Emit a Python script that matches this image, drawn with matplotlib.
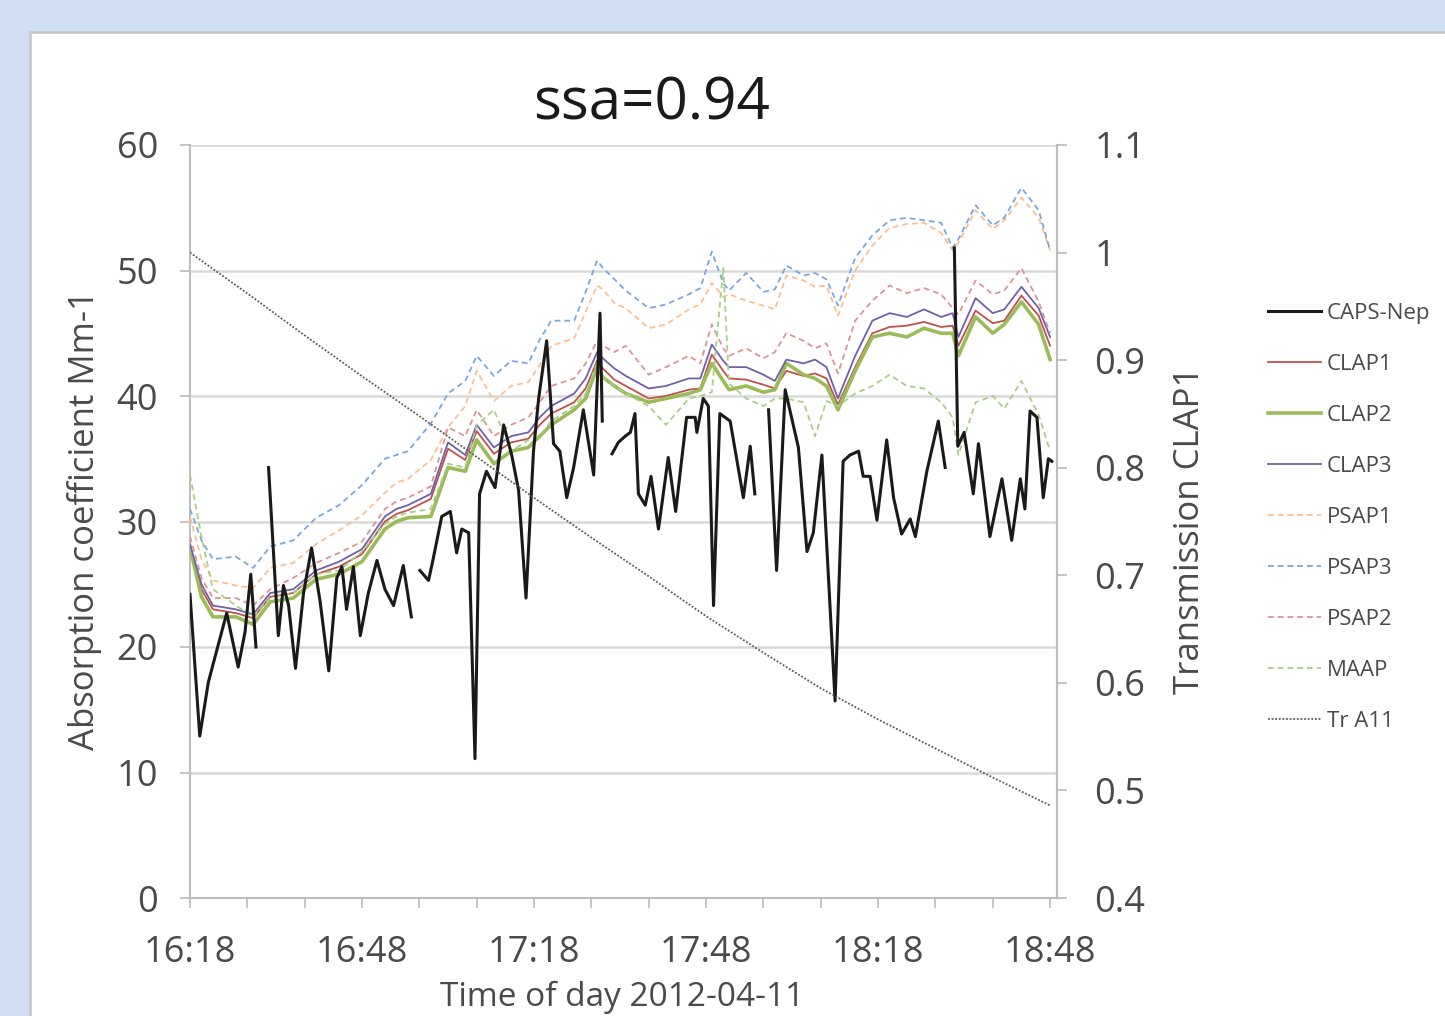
import numpy as np
import matplotlib
matplotlib.use("Agg")
import matplotlib.pyplot as plt
from matplotlib.patches import Rectangle

nan = np.nan

# minutes after 16:18 (2012-04-11)
t_grid = [0, 2, 4, 8, 11, 14, 18, 22, 26, 30, 34, 36, 38, 42, 45, 48, 50, 53, 56, 59,
          61, 63, 67, 69, 71, 72, 74, 76, 80, 83, 87, 89, 91, 93, 94, 97, 100, 102, 104, 107,
          109, 111, 113, 116, 119, 122, 125, 128, 131, 133, 134, 137, 140, 142, 145, 148, 150]

psap3 = [31.0, 28.5, 27.0, 27.2, 26.3, 28.0, 28.5, 30.3, 31.3, 32.9,
         35.0, 35.3, 35.6, 37.8, 40.2, 41.2, 43.2, 41.6, 42.8, 42.6,
         44.5, 46.0, 46.0, 48.3, 50.8, 50.2, 49.3, 48.4, 47.0, 47.3,
         48.1, 48.6, 51.5, 49.0, 48.4, 49.8, 48.3, 48.5, 50.4, 49.6,
         49.8, 49.3, 47.2, 51.0, 52.8, 54.0, 54.2, 54.0, 53.8, 51.8,
         52.5, 55.2, 53.6, 54.2, 56.6, 54.8, 51.6]
psap1 = [30.4, 27.0, 25.3, 24.9, 24.7, 26.3, 26.7, 28.2, 29.3, 30.5,
         32.3, 33.1, 33.4, 34.9, 37.5, 39.2, 42.0, 39.6, 40.8, 41.1,
         42.5, 44.0, 44.6, 46.7, 48.8, 48.5, 47.4, 47.0, 45.4, 45.7,
         46.9, 47.3, 49.0, 47.9, 48.1, 47.6, 47.2, 46.9, 49.6, 49.2,
         48.7, 48.8, 46.4, 50.0, 52.0, 53.4, 53.7, 53.8, 53.0, 51.6,
         52.2, 54.8, 53.3, 54.0, 55.8, 54.2, 51.6]
psap2 = [28.8, 25.5, 23.9, 23.9, 23.3, 24.6, 25.5, 26.7, 27.5, 28.4,
         31.0, 31.6, 31.9, 32.8, 37.5, 36.8, 38.9, 36.8, 37.7, 38.3,
         39.5, 40.8, 41.4, 42.6, 44.4, 44.0, 43.5, 44.0, 41.7, 42.3,
         43.2, 42.6, 45.7, 43.8, 43.2, 43.8, 43.0, 43.5, 45.0, 44.4,
         43.8, 44.2, 41.8, 46.0, 47.6, 48.8, 48.2, 48.6, 48.1, 47.0,
         46.5, 49.2, 48.1, 48.4, 50.2, 47.5, 45.0]
clap3 = [28.2, 25.0, 23.3, 23.0, 22.6, 24.3, 24.6, 26.1, 26.8, 27.8,
         30.4, 31.0, 31.3, 32.2, 36.3, 35.3, 37.7, 35.9, 36.8, 37.1,
         38.3, 39.2, 40.2, 41.4, 43.5, 43.0, 42.2, 41.6, 40.6, 40.8,
         41.4, 41.4, 44.1, 42.8, 42.3, 42.3, 41.7, 41.2, 42.9, 42.6,
         42.9, 42.3, 39.8, 43.2, 46.0, 46.6, 46.3, 46.9, 46.3, 46.6,
         44.7, 47.8, 46.6, 46.9, 48.7, 47.0, 44.7]
clap1 = [27.9, 24.6, 23.0, 22.7, 22.3, 24.0, 24.3, 25.8, 26.4, 27.4,
         30.0, 30.6, 30.9, 31.8, 35.8, 34.9, 37.2, 35.4, 36.3, 36.6,
         37.7, 38.6, 39.5, 40.6, 42.8, 42.2, 41.3, 40.8, 39.8, 40.0,
         40.5, 40.6, 43.3, 42.0, 41.4, 41.3, 40.9, 40.6, 42.0, 41.6,
         41.8, 41.4, 39.3, 42.3, 45.0, 45.5, 45.6, 45.9, 45.5, 45.6,
         44.0, 46.8, 45.8, 46.0, 48.0, 46.4, 44.0]
clap2 = [27.9, 24.0, 22.4, 22.4, 21.8, 23.6, 23.9, 25.4, 25.8, 26.8,
         29.4, 30.0, 30.3, 30.4, 34.3, 34.0, 36.5, 34.6, 35.6, 35.9,
         36.8, 37.7, 38.9, 39.8, 42.3, 41.5, 40.8, 40.2, 39.5, 39.8,
         40.2, 40.5, 42.6, 41.2, 40.5, 40.8, 40.3, 40.5, 42.6, 41.7,
         41.4, 40.8, 38.9, 42.0, 44.7, 45.0, 44.7, 45.4, 45.0, 45.0,
         43.2, 46.3, 45.0, 45.7, 47.5, 45.7, 42.9]
maap = [33.7, 28.8, 24.6, 23.3, 22.4, 23.9, 24.3, 25.8, 26.1, 27.6,
        29.8, 30.4, 30.7, 31.0, 34.6, 34.3, 37.7, 38.9, 35.6, 36.5,
        36.8, 38.0, 39.2, 40.2, 42.6, 41.5, 40.8, 40.2, 39.2, 37.7,
        39.8, 40.0, 40.3, 50.2, 41.0, 39.8, 39.2, 39.8, 39.8, 39.5,
        36.8, 39.6, 39.2, 40.2, 40.8, 41.7, 40.8, 40.6, 39.5, 38.3,
        35.3, 39.5, 40.0, 39.0, 41.2, 38.5, 35.6]

caps_t = [0, 1.7, 3.2, 5.0, 6.4, 8.4, 9.6, 10.6, 11.5, 12.5, 13.7, 15.4, 16.3, 17.2, 18.4,
          19.8, 21.2, 22.7, 24.2, 25.6, 26.5, 27.3, 28.5, 29.7, 31.1, 32.6, 34.0, 35.5, 37.2,
          38.6, 39.3, 40.1, 41.6, 42.4, 43.9, 45.4, 46.5, 47.4, 48.6, 49.7, 50.5, 51.7, 53.2,
          54.7, 56.1, 57.3, 58.6, 59.9, 60.8, 62.2, 63.4, 64.5, 65.7, 66.9, 68.6, 70.4, 71.5,
          71.9, 72.8, 73.6, 74.7, 75.9, 76.8, 77.6, 78.2, 79.4, 80.4, 81.7, 83.4, 84.7, 86.6,
          88.1, 88.4, 89.5, 90.4, 91.3, 92.4, 94.2, 96.5, 97.7, 98.5, 99.7, 100.9, 102.3, 103.8,
          106.1, 107.6, 108.7, 110.2, 112.5, 113.9, 115.1, 116.6, 117.4, 118.6, 119.8, 121.5,
          122.7, 124.1, 125.6, 126.5, 128.5, 130.5, 131.7, 132.6, 133.3, 133.9, 135.0, 136.6,
          137.5, 139.5, 141.6, 143.3, 144.8, 145.6, 146.5, 147.7, 148.8, 149.7, 150.3]
caps_v = [24.2, 12.9, 17.2, 20.3, 22.7, 18.4, 21.2, 25.8, 20.0, nan, 34.3, 20.9, 24.9, 23.3, 18.3,
          24.3, 27.9, 23.6, 18.1, 25.5, 26.4, 23.0, 26.4, 20.9, 24.3, 26.9, 24.6, 23.3, 26.5,
          22.4, nan, 26.1, 25.3, 27.0, 30.4, 30.8, 27.5, 29.4, 29.1, 11.1, 32.2, 34.0, 32.7,
          37.7, 35.3, 32.5, 23.9, 35.6, 39.8, 44.4, 36.2, 35.6, 31.9, 34.3, 38.9, 33.7, 46.6,
          38.0, nan, 35.4, 36.3, 36.8, 37.1, 38.6, 32.2, 31.3, 33.6, 29.4, 35.1, 30.8, 38.3,
          38.3, 37.1, 39.8, 39.2, 23.3, 38.6, 38.0, 31.9, 36.0, 32.2, nan, 38.9, 26.1, 40.5,
          35.9, 27.6, 29.1, 35.3, 15.7, 34.8, 35.3, 35.6, 33.6, 33.6, 30.1, 36.5,
          31.9, 29.0, 30.2, 28.8, 34.0, 38.0, 34.3, nan, 51.8, 36.0, 37.1, 32.2,
          36.2, 28.8, 33.4, 28.5, 33.4, 31.0, 38.8, 38.3, 31.9, 35.0, 34.8]

tr_t = [0, 10, 20, 30, 40, 50, 60, 70, 80, 90, 100, 110, 120, 130, 140, 150]
tr_v = [1.000, 0.962, 0.923, 0.885, 0.848, 0.810, 0.772, 0.735, 0.699, 0.662,
        0.628, 0.595, 0.566, 0.539, 0.512, 0.486]

x_major = [0, 30, 60, 90, 120, 150]
x_labels = ["16:18", "16:48", "17:18", "17:48", "18:18", "18:48"]

W, H = 1445, 1016
fig = plt.figure(figsize=(W / 100, H / 100), dpi=100)
fig.patch.set_facecolor("#cfdff1")
fig.patches.append(Rectangle((30 / W, -0.05), 1.2, 1 - 32 / H + 0.05, transform=fig.transFigure,
                             facecolor="white", edgecolor="#c4c4c4", lw=1.8, zorder=-5))

fnt = "Open Sans"
grey = "#bfbfbf"
txt = "#4a4a4a"
ax = fig.add_axes([190 / W, 1 - 898 / H, (1057 - 190) / W, (898 - 145) / H])
ax.set_facecolor("none")

dash = (0, (3.2, 2.2))
series = [
    ("CLAP1", clap1, "#c0504d", 1.3, "-"),
    ("CLAP2", clap2, "#9bbb59", 2.6, "-"),
    ("CLAP3", clap3, "#7060a8", 1.3, "-"),
    ("PSAP1", psap1, "#fbbf8f", 1.3, dash),
    ("PSAP3", psap3, "#7aa6dc", 1.3, dash),
    ("PSAP2", psap2, "#d99594", 1.3, dash),
    ("MAAP", maap, "#a6cf85", 1.3, dash),
]
handles = []
h, = ax.plot(caps_t, caps_v, color="#1a1a1a", lw=2.2, zorder=5, label="CAPS-Nep")
handles.append(h)
for name, vals, col, lw, ls in series:
    h, = ax.plot(t_grid, vals, color=col, lw=lw, ls=ls, label=name, zorder=3)
    handles.append(h)

ax.set_xlim(0, 151.2)
ax.set_ylim(0, 60)
ax.set_yticks(range(0, 61, 10))
ax.set_xticks(x_major)
ax.set_xticklabels(x_labels)
ax.set_xticks(range(0, 151, 10), minor=True)
ax.grid(axis="y", color="#d9d9d9", lw=1.8)
ax.set_axisbelow(True)
for s in ax.spines.values():
    s.set_color(grey)
    s.set_linewidth(1.5)
ax.spines["top"].set_visible(False)
ax.tick_params(axis="both", which="both", direction="out", length=7, width=1.3, color=grey,
               labelsize=26, labelcolor=txt)
ax.tick_params(axis="y", pad=16)
ax.tick_params(axis="x", pad=20)
for lab in ax.get_xticklabels() + ax.get_yticklabels():
    lab.set_family(fnt)

ax2 = ax.twinx()
h, = ax2.plot(tr_t, tr_v, color="#595959", lw=1.3, ls=(0, (1, 1)), label="Tr A11")
handles.append(h)
ax2.set_ylim(0.4, 1.1)
ax2.set_yticks([0.4, 0.5, 0.6, 0.7, 0.8, 0.9, 1.0, 1.1])
ax2.set_yticklabels(["0.4", "0.5", "0.6", "0.7", "0.8", "0.9", "1", "1.1"])
for s in ax2.spines.values():
    s.set_visible(False)
ax2.spines["right"].set_visible(True)
ax2.spines["right"].set_color(grey)
ax2.spines["right"].set_linewidth(1.5)
ax2.tick_params(axis="y", direction="out", length=7, width=1.3, color=grey,
                labelsize=26, labelcolor=txt, pad=20)
for lab in ax2.get_yticklabels():
    lab.set_family(fnt)

fig.text(651 / W, 1 - 104 / H, "ssa=0.94", fontsize=42, family=fnt, color="#1a1a1a",
         ha="center", va="center")
fig.text(85 / W, 1 - 520 / H, "Absorption coefficient Mm-1", fontsize=25, family=fnt,
         color=txt, rotation=90, ha="center", va="center")
fig.text(1190 / W, 1 - 530 / H, "Transmission CLAP1", fontsize=25, family=fnt,
         color=txt, rotation=90, ha="center", va="center")
fig.text(622 / W, 1 - 1014 / H, "Time of day 2012-04-11", fontsize=24, family=fnt,
         color=txt, ha="center", va="bottom")

fig.legend(handles=handles, loc="upper left", bbox_to_anchor=(1268 / W, 1 - 303 / H),
           frameon=False, prop={"family": fnt, "size": 16}, handlelength=2.4,
           handletextpad=0.25, labelspacing=1.35, borderpad=0, borderaxespad=0,
           labelcolor=txt)

fig.savefig("out.png", dpi=100, facecolor=fig.get_facecolor())
